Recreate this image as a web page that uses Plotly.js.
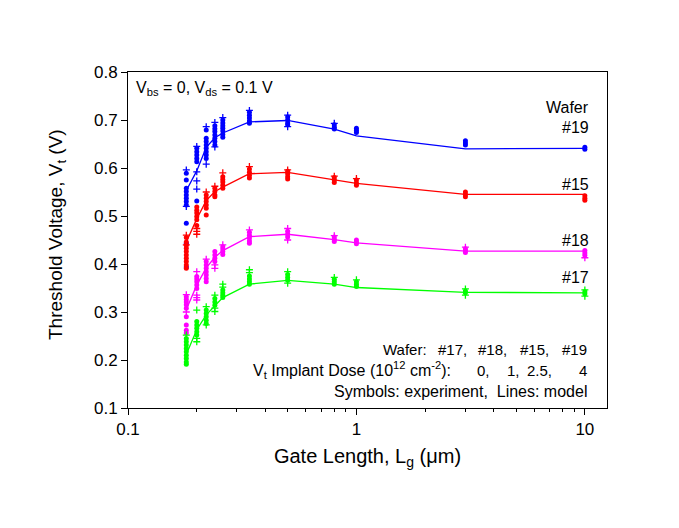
<!DOCTYPE html>
<html>
<head>
<meta charset="utf-8">
<script src="https://cdn.plot.ly/plotly-3.0.1.min.js"></script>
<style>html,body{margin:0;padding:0;background:#fff;}#chart{width:679px;height:528px;}</style>
</head>
<body>
<div id="chart"></div>
<script>
// Gate lengths (um) at which devices were measured / modelled
const gateLengths = [0.18, 0.2, 0.22, 0.24, 0.26, 0.34, 0.5, 0.8, 1, 3, 10];

// Model lines (V)
const model19 = [0.553, 0.594, 0.643, 0.663, 0.673, 0.696, 0.699, 0.681, 0.667, 0.640, 0.641];
const model15 = [0.446, 0.494, 0.532, 0.551, 0.560, 0.588, 0.591, 0.576, 0.568, 0.545, 0.545];
const model18 = [0.305, 0.356, 0.392, 0.414, 0.428, 0.457, 0.462, 0.451, 0.444, 0.427, 0.427];
const model17 = [0.212, 0.263, 0.294, 0.312, 0.330, 0.358, 0.366, 0.358, 0.351, 0.341, 0.340];

// Experimental points (V), one list per gate length; circles and crosses
const exp19Circ = [[0.589,0.575,0.558,0.551,0.544,0.537,0.530,0.523,0.485,0.443,0.394],[0.641,0.634,0.627,0.620,0.613,0.531],[0.679,0.662,0.655,0.648,0.641,0.634,0.627,0.620],[0.688,0.682,0.676,0.669,0.662,0.655,0.648],[0.700,0.694,0.688,0.683,0.677,0.670,0.664],[0.716,0.710,0.704,0.698,0.693],[0.706,0.700,0.694,0.690],[0.690,0.685,0.681],[0.683,0.678,0.674],[0.657,0.652,0.648],[0.643,0.639]];
const exp19Cross = [[0.596,0.520],[0.592,0.573,0.556,0.645],[0.686,0.608],[0.695,0.644],[0.705],[0.720],[0.710,0.686],[0.693],[],[],[]];
const exp15Circ = [[0.455,0.446,0.439,0.433,0.426,0.419,0.412,0.405,0.398,0.391],[0.519,0.512,0.506,0.499,0.492,0.480],[0.544,0.537,0.530,0.523,0.516,0.502],[0.558,0.551,0.544,0.540],[0.582,0.576,0.571,0.564,0.558],[0.598,0.591,0.585,0.579],[0.593,0.588,0.582,0.577],[0.580,0.575,0.570],[0.575,0.569,0.564],[0.550,0.545,0.540],[0.542,0.537,0.533]];
const exp15Cross = [[0.460,0.440],[0.474,0.468,0.462],[0.550],[0.562],[0.590],[0.603],[0.596],[0.583],[0.578],[],[]];
const exp18Circ = [[0.332,0.326,0.321,0.315,0.308,0.290,0.273,0.262,0.256],[0.374,0.369,0.363,0.356,0.349],[0.405,0.398,0.391,0.384,0.377,0.370,0.363],[0.426,0.419,0.412,0.405],[0.436,0.431,0.426,0.420],[0.466,0.460,0.454,0.448,0.443],[0.468,0.462,0.456],[0.456,0.451,0.447],[0.450,0.446,0.442],[0.432,0.428,0.424],[0.428,0.423,0.418]];
const exp18Cross = [[0.336,0.300],[0.384,0.335,0.330,0.325],[0.410],[0.398,0.391],[0.440],[0.471],[0.474,0.450],[0.459],[],[0.435],[0.413]];
const exp17Circ = [[0.245,0.238,0.231,0.224,0.217,0.210,0.203,0.196,0.191],[0.280,0.273,0.266,0.259,0.252],[0.304,0.297,0.290,0.283,0.276],[0.328,0.321,0.314],[0.346,0.340,0.335,0.330],[0.375,0.369,0.363,0.358],[0.378,0.372,0.366],[0.368,0.363,0.358],[0.363,0.358,0.353],[0.344,0.340],[0.342,0.338]];
const exp17Cross = [[0.252],[0.304,0.245,0.238],[0.311,0.273],[0.335,0.308,0.301],[0.358,0.352],[0.388,0.382],[0.384,0.360],[0.372],[0.367],[0.348,0.335],[0.346,0.333]];

const waferLabels = ['#19', '#15', '#18', '#17'];
const doseLabels = ['0,', '1,', '2.5,', '4'];
const waferOrder = ['#17,', '#18,', '#15,', '#19'];

const series = [
  {model: model19, circ: exp19Circ, cross: exp19Cross, color: '#0000FF'},
  {model: model15, circ: exp15Circ, cross: exp15Cross, color: '#FF0000'},
  {model: model18, circ: exp18Circ, cross: exp18Cross, color: '#FF00FF'},
  {model: model17, circ: exp17Circ, cross: exp17Cross, color: '#00FF00'}
];

function expand(groups) {
  const xs = [], ys = [];
  groups.forEach((g, i) => g.forEach(v => { xs.push(gateLengths[i]); ys.push(v); }));
  return {xs, ys};
}

const traces = [];
series.forEach(s => {
  traces.push({x: gateLengths, y: s.model, mode: 'lines', line: {color: s.color, width: 1.3}, showlegend: false, hoverinfo: 'skip'});
  const c = expand(s.circ);
  traces.push({x: c.xs, y: c.ys, mode: 'markers', marker: {symbol: 'circle', size: 5, color: s.color}, showlegend: false});
  const k = expand(s.cross);
  traces.push({x: k.xs, y: k.ys, mode: 'markers', marker: {symbol: 'cross-thin', size: 5, color: s.color, line: {color: s.color, width: 1.3}}, showlegend: false});
});

// plot area in pixels: left 128, right 607, top 72, bottom 408
const L = 128, R = 607, T = 72, B = 408;
const px = v => (v - L) / (R - L);
const py = v => (B - v) / (B - T);
const FONT = 'Arial, "Liberation Sans", sans-serif';

function ann(text, x, y, anchor, size) {
  return {text: text, xref: 'paper', yref: 'paper', x: px(x), y: py(y), xanchor: anchor, yanchor: 'middle', showarrow: false, font: {family: FONT, size: size, color: '#000'}};
}

const yTitle = ann('Threshold Voltage, V<sub>t</sub> (V)', 57, 235, 'center', 19);
yTitle.textangle = -90;

const annotations = [
  yTitle,
  ann('V<sub>bs</sub> = 0, V<sub>ds</sub> = 0.1 V', 134, 88, 'left', 16),
  ann('Wafer', 591, 108, 'right', 16),
  ann(waferLabels[0], 591, 128, 'right', 16),
  ann(waferLabels[1], 591, 184, 'right', 16),
  ann(waferLabels[2], 591, 240, 'right', 16),
  ann(waferLabels[3], 591, 277, 'right', 16),
  ann('Wafer:', 429, 349, 'right', 15),
  ann('V<sub>t</sub> Implant Dose (10<sup>12</sup> cm<sup>-2</sup>):', 453, 370, 'right', 16),
  ann('Symbols: experiment,  Lines: model', 589, 391, 'right', 16)
];
const row1Right = [469, 509, 551, 589];
const row2Right = [492, 522, 554, 589];
waferOrder.forEach((w, i) => annotations.push(ann(w, row1Right[i], 349, 'right', 15)));
doseLabels.forEach((d, i) => annotations.push(ann(d, row2Right[i], 370, 'right', 15)));

const minorVals = [];
[0.1, 1].forEach(d => { for (let m = 2; m <= 9; m++) minorVals.push(+(m * d).toFixed(3)); });

const layout = {
  width: 679, height: 528,
  margin: {l: L, r: 679 - R, t: T, b: 528 - B},
  paper_bgcolor: '#fff', plot_bgcolor: '#fff',
  font: {family: FONT, color: '#000'},
  showlegend: false,
  xaxis: {
    type: 'log', range: [-1, Math.log10(12.5)],
    tickvals: [0.1, 1, 10], ticktext: ['0.1', '1', '10'],
    ticks: 'outside', ticklen: 6, tickwidth: 1, tickcolor: '#000',
    minor: {tickvals: minorVals, ticks: 'outside', ticklen: 3, tickwidth: 1, tickcolor: '#000', showgrid: false},
    showgrid: false, zeroline: false, showline: true, linecolor: '#000', linewidth: 1, mirror: true,
    tickfont: {family: FONT, size: 17, color: '#000'},
    title: {text: 'Gate Length, L<sub>g</sub> (\u03bcm)', font: {family: FONT, size: 20, color: '#000'}, standoff: 10}
  },
  yaxis: {
    range: [0.1, 0.8], dtick: 0.1, tick0: 0.1, tickformat: '.1f',
    ticks: 'outside', ticklen: 6, tickwidth: 1, tickcolor: '#000',
    showgrid: false, zeroline: false, showline: true, linecolor: '#000', linewidth: 1, mirror: true,
    tickfont: {family: FONT, size: 17, color: '#000'}
  },
  annotations: annotations
};

Plotly.newPlot('chart', traces, layout, {staticPlot: true, displayModeBar: false});
</script>
</body>
</html>
